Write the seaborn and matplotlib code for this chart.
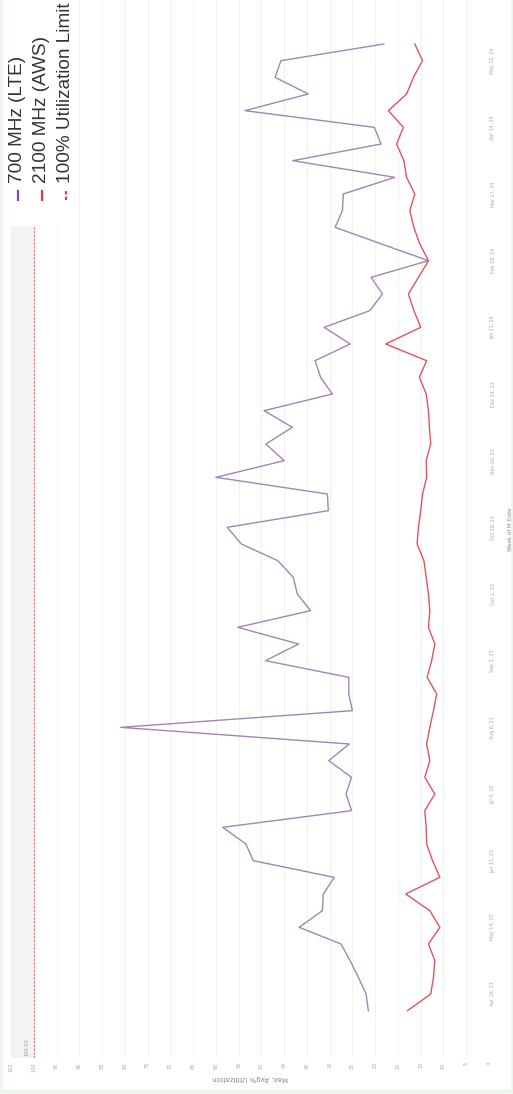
import numpy as np
import pandas as pd
import matplotlib
matplotlib.use("Agg")
import matplotlib.pyplot as plt
import matplotlib.dates as mdates
from matplotlib.lines import Line2D
from matplotlib.patches import Rectangle
import seaborn as sns

# weekly data (week of M date), Apr 9 2023 .. May 19 2024
weeks = pd.date_range("2023-04-09", periods=59, freq="7D")
lte_700 = [26.5, 27.0, 28.7, 30.5, 32.5, 41.7, 36.6, 36.4, 34.0, 51.8,
           53.4, 58.5, 30.2, 31.4, 30.2, 35.2, 30.7, 80.9, 30.0, 30.8,
           30.8, 49.1, 41.8, 55.2, 39.2, 42.1, 43.0, 46.4, 54.4, 57.5,
           35.3, 35.5, 60.0, 45.0, 49.0, 43.2, 49.4, 34.4, 37.0,
           38.2, 30.5, 36.2, 26.2, 23.4, 25.9, 13.3, 23.6, 33.8, 32.2,
           32.0, 20.7, 43.1, 23.7, 25.2, 53.6, 39.7, 47.0, 45.7, 23.1]
aws_2100 = [17.9, 12.8, 12.2, 11.9, 13.3, 10.8, 13.0, 18.3, 10.8, 12.4,
            13.7, 13.8, 14.1, 11.9, 14.1, 13.0, 13.7, 13.0, 12.2, 11.5,
            13.6, 12.6, 11.9, 13.3, 13.0, 13.3, 13.8, 14.3, 15.8, 15.5,
            15.0, 14.6, 13.7, 13.8, 12.8, 13.1, 13.3, 13.8, 15.3,
            13.7, 22.7, 15.0, 16.5, 17.7, 15.5, 13.3, 15.2, 16.5, 17.4,
            16.3, 18.1, 18.7, 20.3, 18.8, 22.1, 18.1, 16.6, 14.6, 16.3]
limit = 100.0
band_names = ["700 MHz (LTE)", "2100 MHz (AWS)"]
legend_labels = ["700 MHz (LTE)", "2100 MHz (AWS)", "100% Utilization Limit"]
value_ticks = list(range(0, 110, 5))
date_ticks = pd.date_range("2023-04-16", "2024-05-12", freq="28D")

df = pd.DataFrame({
    "week": list(weeks) * 2,
    "util": lte_700 + aws_2100,
    "band": [band_names[0]] * len(weeks) + [band_names[1]] * len(weeks),
})

colors = {band_names[0]: "#a286b2", band_names[1]: "#e0555b"}
key_colors = ["#7b4db3", "#e0393f", "#ee3a3a"]
limit_color = "#e58585"
tick_color = "#a8a8a8"

W, H = 513, 1094
fig = plt.figure(figsize=(W / 100, H / 100), dpi=100, facecolor="#ecf7eb")
fig.patches.append(Rectangle((3 / W, 1 - 1088 / H), 507 / W, 1088 / H,
                             transform=fig.transFigure, color="white", zorder=-10))

ax = fig.add_axes([11 / W, 1 - 1058 / H, 478 / W, 1058 / H])
ax.set_facecolor("white")

sns.lineplot(data=df, x="util", y="week", hue="band", palette=colors,
             orient="y", estimator=None, legend=False, lw=1.0, ax=ax)

ax.axvspan(100, 105, color="#f3f3f3", zorder=0, lw=0)
ax.axvline(limit, color=limit_color, ls=(0, (2, 1)), lw=0.9)

week = pd.Timedelta(weeks=1)
ax.set_xlim(105, 0)
ax.set_ylim(weeks[0] - 2.84 * week, weeks[0] + 60.64 * week)

ax.text(101.4, weeks[0] - 2.7 * week, "100.00", rotation=90, ha="center",
        va="bottom", fontsize=3.6, color="#999999")

ax.set_xticks(value_ticks)
ax.set_xticklabels([str(v) for v in value_ticks], rotation=90, fontsize=3.6,
                   color=tick_color)
ax.tick_params(axis="x", length=0, pad=3)
ax.set_xlabel("Max. Avg% Utilization", rotation=180, fontsize=5,
              color="#888888", labelpad=2)

ax.yaxis.tick_right()
ax.yaxis.set_label_position("right")
ax.set_yticks(date_ticks)
ax.yaxis.set_major_formatter(mdates.DateFormatter("%b %-d, %y"))
ax.tick_params(axis="y", length=0, pad=1, labelsize=3.4, labelcolor=tick_color,
               labelrotation=90)
for lab in ax.get_yticklabels():
    lab.set_va("center")
ax.set_ylabel("Week of M Date", rotation=90, fontsize=4, color="#888888",
              labelpad=9)

ax.grid(axis="x", color="#f2f2f2", lw=0.8)
ax.grid(axis="y", visible=False)
ax.set_axisbelow(True)
for s in ax.spines.values():
    s.set_visible(False)

# legend (rotated like the rest of the chart)
fig.add_artist(Rectangle((3 / W, 1 - 225 / H), 74 / W, 225 / H,
                         transform=fig.transFigure, color="white", zorder=5))
key_styles = ["-", "-", (0, (1.5, 1))]
for i, lab in enumerate(legend_labels):
    xc = (17.5 + 24 * i) / W
    fig.text(xc, 1 - 183 / H, lab, rotation=90, ha="center", va="bottom",
             fontsize=13.7, family="Liberation Sans", color="#333333", zorder=6)
    fig.add_artist(Line2D([xc, xc], [1 - 200 / H, 1 - 191 / H],
                          transform=fig.transFigure, color=key_colors[i],
                          ls=key_styles[i], lw=1.6, zorder=6))

fig.savefig("out.png", dpi=100, facecolor=fig.get_facecolor())
